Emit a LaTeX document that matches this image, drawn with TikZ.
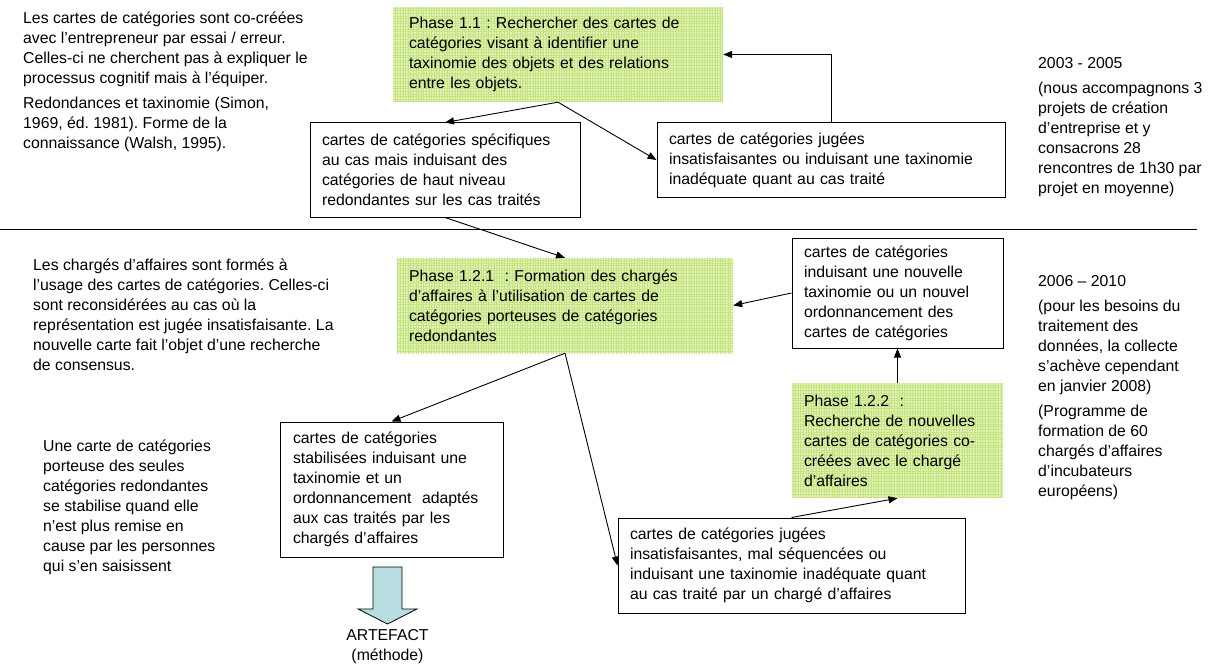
\documentclass[tikz,border=0pt]{standalone}
\usepackage{fontspec}
\setmainfont{Liberation Sans}
\usetikzlibrary{arrows.meta,patterns.meta}
\definecolor{PhaseClr}{RGB}{226,242,186}
\definecolor{GrilleClr}{RGB}{196,228,128}
\definecolor{FlecheClr}{RGB}{183,221,224}
\frenchspacing

\begin{document}
\begin{tikzpicture}[x=1pt,y=-1pt,font=\fontsize{15.8}{20}\selectfont,
  carte/.style={draw,line width=1pt,align=left,inner xsep=12pt},
  phase/.style={fill=PhaseClr,align=left,inner xsep=12pt,
    postaction={pattern={Lines[distance=2.6pt,angle=0,line width=.8pt]},pattern color=GrilleClr},
    postaction={pattern={Lines[distance=2.6pt,angle=90,line width=.8pt]},pattern color=GrilleClr}},
  note/.style={align=left,inner sep=0pt,anchor=north west},
  fleche/.style={line width=.9pt,-{Triangle[length=9pt,width=7pt]}}]
\useasboundingbox (0,0) rectangle (1208,666);

\node[note] (N1) at (23,12) {Les cartes de catégories sont co-créées\\avec l’entrepreneur par essai / erreur.\\Celles-ci ne cherchent pas à expliquer le\\processus cognitif mais à l’équiper.\\[5pt]Redondances et taxinomie (Simon,\\1969, éd. 1981). Forme de la\\connaissance (Walsh, 1995).};
\node[note] (N2) at (33,259) {Les chargés d’affaires sont formés à\\l’usage des cartes de catégories. Celles-ci\\sont reconsidérées au cas où la\\représentation est jugée insatisfaisante. La\\nouvelle carte fait l’objet d’une recherche\\de consensus.};
\node[note] (N3) at (43,440) {Une carte de catégories\\porteuse des seules\\catégories redondantes\\se stabilise quand elle\\n’est plus remise en\\cause par les personnes\\qui s’en saisissent};
\node[note] (N4) at (1038,57) {2003 - 2005\\[5pt](nous accompagnons 3\\projets de création\\d’entreprise et y\\consacrons 28\\rencontres de 1h30 par\\projet en moyenne)};
\node[note] (N5) at (1038,275) {2006 – 2010\\[5pt](pour les besoins du\\traitement des\\données, la collecte\\s’achève cependant\\en janvier 2008)\\[5pt](Programme de\\formation de 60\\chargés d’affaires\\d’incubateurs\\européens)};

\draw[line width=1pt] (0,229) -- (1197,229);

\node[phase,text width=298pt,inner xsep=16pt,minimum height=95pt] (P11) at (558,54.5) {Phase 1.1 : Rechercher des cartes de\\catégories visant à identifier une\\taxinomie des objets et des relations\\entre les objets.};
\node[carte,text width=246pt,minimum height=94pt] (A) at (445,170) {cartes de catégories spécifiques\\au cas mais induisant des\\catégories de haut niveau\\redondantes sur les cas traités};
\node[carte,text width=324pt,minimum height=74pt] (B) at (831,160) {cartes de catégories jugées\\insatisfaisantes ou induisant une taxinomie\\inadéquate quant au cas traité};

\node[phase,text width=312pt,minimum height=95pt] (P121) at (565,305.5) {Phase 1.2.1~ : Formation des chargés\\d’affaires à l’utilisation de cartes de\\catégories porteuses de catégories\\redondantes};
\node[carte,text width=187pt,minimum height=110pt] (E) at (897.5,293) {cartes de catégories\\induisant une nouvelle\\taxinomie ou un nouvel\\ordonnancement des\\cartes de catégories};
\node[phase,text width=187pt,minimum height=115pt] (P122) at (897.5,440.5) {Phase 1.2.2~ :\\Recherche de nouvelles\\cartes de catégories co-\\créées avec le chargé\\d’affaires};
\node[carte,text width=197pt,inner xsep=13pt,minimum height=135pt] (C) at (391.5,489.5) {cartes de catégories\\stabilisées induisant une\\taxinomie et un\\ordonnancement~ adaptés\\aux cas traités par les\\chargés d’affaires};
\node[carte,text width=323pt,minimum height=95pt] (D) at (791.5,565.5) {cartes de catégories jugées\\insatisfaisantes, mal séquencées ou\\induisant une taxinomie inadéquate quant\\au cas traité par un chargé d’affaires};

\filldraw[fill=FlecheClr,line width=.8pt] (373,567) -- (402,567) -- (402,609) -- (417,609) -- (387.5,624) -- (358,609) -- (373,609) -- cycle;
\node[align=center,inner sep=0pt] (Art) at (387.5,647) {ARTEFACT\\(méthode)};

\draw[fleche] (P11.south) -- (A.north);
\draw[fleche] (P11.south) -- (B.west);
\draw[fleche] (B.north) |- (P11.east);
\draw[fleche] (A.south) -- (P121.north);
\draw[fleche] (P121.south) -- (C.north);
\draw[fleche] (P121.south) -- (D.west);
\draw[fleche] (D.north) -- (P122.south);
\draw[fleche] (P122.north) -- (E.south);
\draw[fleche] (E.west) -- (P121.east);

\end{tikzpicture}
\end{document}
